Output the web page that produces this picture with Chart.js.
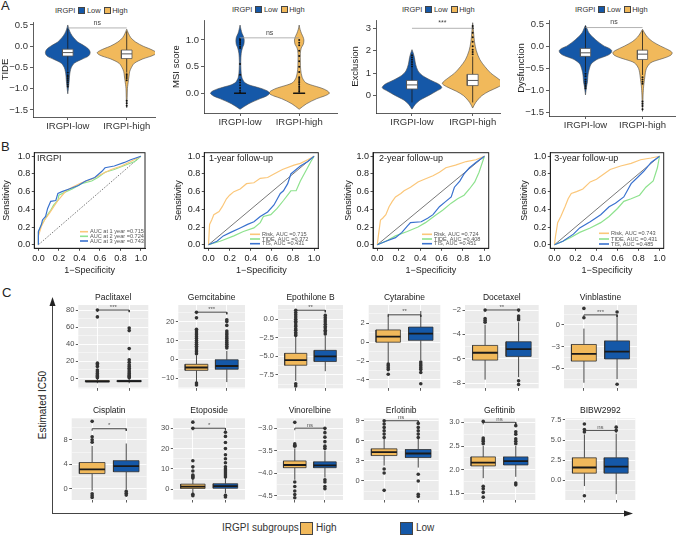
<!DOCTYPE html>
<html><head><meta charset="utf-8">
<script src="https://cdn.jsdelivr.net/npm/chart.js@4.4.1/dist/chart.umd.min.js"></script>
<style>
html,body{margin:0;padding:0;background:#fff;}
body{width:677px;height:535px;position:relative;overflow:hidden;font-family:'Liberation Sans',Arial,sans-serif;color:#222;}
canvas{position:absolute;}
.t{position:absolute;white-space:nowrap;line-height:1;}
.lg{position:absolute;font-size:7.5px;display:flex;align-items:center;white-space:nowrap;color:#333;line-height:1}
.lg i{display:inline-block;width:5px;height:5px;margin:0 1.5px 0 3px;border:0.6px solid #444}
</style></head><body>
<div class="t" style="left:1px;top:-1px;font-size:13px">A</div>
<div class="t" style="left:1px;top:140px;font-size:13px">B</div>
<div class="t" style="left:2px;top:286px;font-size:13px">C</div>

<div class="lg" style="left:55px;top:7px">IRGPI<i style="background:#1558a8"></i>Low<i style="background:#f1b95b"></i>High</div>
<div class="lg" style="left:232px;top:6px">IRGPI<i style="background:#1558a8"></i>Low<i style="background:#f1b95b"></i>High</div>
<div class="lg" style="left:402px;top:6px">IRGPI<i style="background:#1558a8"></i>Low<i style="background:#f1b95b"></i>High</div>
<div class="lg" style="left:575px;top:6px">IRGPI<i style="background:#1558a8"></i>Low<i style="background:#f1b95b"></i>High</div>

<svg style="position:absolute;left:0;top:0" width="677" height="535">
  <line x1="52.5" y1="513.5" x2="52.5" y2="304" stroke="#444" stroke-width="1"/>
  <polygon points="52.5,297 49.5,306 55.5,306" fill="#222"/>
  <line x1="52" y1="513.5" x2="626" y2="513.5" stroke="#444" stroke-width="1"/>
  <polygon points="633,513.5 624,510.5 624,516.5" fill="#222"/>
</svg>
<div class="t" style="left:43px;top:405px;font-size:10px;transform:translate(-50%,-50%) rotate(-90deg)">Estimated IC50</div>
<div class="t" style="left:222px;top:523px;font-size:10px;color:#333">IRGPI subgroups</div>
<div style="position:absolute;left:300px;top:522px;width:11px;height:11px;background:#f1b95b;border:1px solid #444"></div>
<div class="t" style="left:316px;top:523px;font-size:10px;color:#333">High</div>
<div style="position:absolute;left:400px;top:522px;width:11px;height:11px;background:#1558a8;border:1px solid #444"></div>
<div class="t" style="left:416px;top:523px;font-size:10px;color:#333">Low</div>

<script>
// ===================== DATA =====================
// ---- Panel A: violin plots (density half-widths read at y levels) ----
const violinGroups = ['IRGPI-low', 'IRGPI-high'];

const tideLowY  = [-1.12,-1.0,-0.9,-0.8,-0.7,-0.6,-0.5,-0.4,-0.3,-0.25,-0.2,-0.15,-0.1,-0.05,0.0,0.05,0.1,0.2,0.3,0.4,0.5];
const tideLowW  = [0,0.01,0.018,0.025,0.03,0.04,0.06,0.11,0.25,0.33,0.37,0.38,0.37,0.34,0.29,0.23,0.17,0.1,0.05,0.02,0];
const tideHighY = [-1.45,-1.3,-1.2,-1.0,-0.9,-0.8,-0.7,-0.6,-0.5,-0.4,-0.3,-0.25,-0.2,-0.15,-0.1,-0.05,0.0,0.1,0.2,0.3,0.4];
const tideHighW = [0,0.005,0.008,0.012,0.02,0.03,0.04,0.05,0.08,0.13,0.27,0.38,0.47,0.5,0.45,0.37,0.28,0.15,0.07,0.03,0];
const tideLowBox  = [-0.23,-0.15,-0.07];   // Q1, median, Q3
const tideHighBox = [-0.29,-0.18,-0.09];
const tideLowWhisk  = [-0.58, 0.42];
const tideHighWhisk = [-0.62, 0.35];
const tideLowDots  = [-0.62,-0.68,-0.72,-0.76,-0.8,-0.85,-0.9,-0.95];
const tideHighDots = [-0.66,-0.7,-0.75,-0.8,-1.28,-1.34,-1.4];

const msiLowY  = [-0.3,-0.2,-0.1,-0.05,0,0.05,0.1,0.15,0.2,0.3,0.45,0.6,0.75,0.85,0.92,1.0,1.06,1.12,1.2,1.28];
const msiLowW  = [0,0.14,0.34,0.45,0.5,0.45,0.33,0.17,0.08,0.03,0.015,0.012,0.02,0.04,0.065,0.07,0.06,0.035,0.015,0];
const msiHighY = [-0.3,-0.2,-0.1,-0.05,0,0.05,0.1,0.15,0.2,0.3,0.45,0.6,0.75,0.85,0.92,1.0,1.06,1.12,1.2,1.28];
const msiHighW = [0,0.12,0.3,0.43,0.51,0.47,0.37,0.22,0.11,0.05,0.025,0.02,0.02,0.035,0.07,0.08,0.065,0.04,0.015,0];
const msiLowBox  = [0,0,0];
const msiHighBox = [0,0,0];
const msiLowDots  = [0.02,0.05,0.1,0.15,0.2,0.25,0.35,0.55,0.85,0.88,0.92,0.95,0.98,1.0,1.02];
const msiHighDots = [0.03,0.06,0.1,0.13,0.17,0.2,0.23,0.27,0.3,0.4,0.5,0.6,0.7,0.8,0.9,0.95,1.0];

const exclLowY  = [-0.6,-0.4,-0.2,0,0.2,0.35,0.5,0.7,0.9,1.1,1.4,1.7,1.9,2.05];
const exclLowW  = [0,0.05,0.13,0.27,0.4,0.49,0.45,0.3,0.17,0.1,0.06,0.04,0.02,0];
const exclHighY = [-0.55,-0.3,0,0.2,0.4,0.55,0.8,1.0,1.3,1.6,2.0,2.4,2.8,3.25];
const exclHighW = [0,0.05,0.15,0.27,0.43,0.5,0.4,0.3,0.2,0.12,0.06,0.03,0.015,0];
const exclLowBox  = [0.3,0.48,0.68];
const exclHighBox = [0.45,0.68,0.95];
const exclLowWhisk  = [-0.3, 1.25];
const exclHighWhisk = [-0.3, 1.75];
const exclLowDots  = [1.3,1.4,1.5,1.6,1.7,1.8];
const exclHighDots = [1.85,1.95,2.05,2.2,2.4,2.6,2.8,3.0,3.1];

const dysLowY  = [-1.1,-1.0,-0.9,-0.8,-0.7,-0.6,-0.5,-0.4,-0.3,-0.25,-0.2,-0.15,-0.1,-0.05,0.0,0.1,0.2,0.3,0.4,0.47];
const dysLowW  = [0,0.01,0.02,0.035,0.04,0.05,0.07,0.1,0.2,0.3,0.4,0.45,0.46,0.42,0.33,0.22,0.13,0.06,0.025,0];
const dysHighY = [-1.47,-1.3,-1.1,-1.0,-0.9,-0.8,-0.7,-0.6,-0.5,-0.4,-0.35,-0.3,-0.25,-0.2,-0.15,-0.1,0.0,0.1,0.2,0.3,0.38];
const dysHighW = [0,0.006,0.01,0.015,0.02,0.03,0.04,0.05,0.07,0.12,0.18,0.3,0.42,0.5,0.52,0.48,0.32,0.18,0.09,0.035,0];
const dysLowBox  = [-0.23,-0.15,-0.05];
const dysHighBox = [-0.3,-0.18,-0.09];
const dysLowWhisk  = [-0.58, 0.45];
const dysHighWhisk = [-0.65, 0.35];
const dysLowDots  = [-0.62,-0.68,-0.75,-0.8,-0.85,-0.9,-0.95];
const dysHighDots = [-0.7,-0.75,-0.8,-0.85,-1.25,-1.3,-1.35,-1.42];

const tideTicks = [-1.5,-1.0,-0.5,0.0,0.5];
const msiTicks  = [0.0,0.5,1.0];
const exclTicks = [0,1,2,3];
const dysTicks  = [-1.5,-1.0,-0.5,0.0,0.5];
const violinSig = ['ns','ns','***','ns'];
const violinSigY = [0.43, 1.04, 3.0, 0.42];

// ---- Panel B: ROC curves [1-specificity, sensitivity] ----
const rocTicks = [0.0,0.2,0.4,0.6,0.8,1.0];
const diagonal = [[0,0],[1,1]];
const irgpiYear1 = [[0,0],[0,0.1],[0.03,0.21],[0.06,0.28],[0.11,0.36],[0.15,0.43],[0.19,0.5],[0.22,0.54],[0.27,0.61],[0.33,0.65],[0.42,0.7],[0.52,0.74],[0.62,0.8],[0.71,0.85],[0.81,0.89],[0.9,0.94],[1,1]];
const irgpiYear2 = [[0,0],[0,0.14],[0.03,0.23],[0.06,0.28],[0.09,0.34],[0.12,0.39],[0.15,0.45],[0.19,0.5],[0.2,0.56],[0.27,0.6],[0.33,0.63],[0.42,0.69],[0.52,0.72],[0.58,0.76],[0.65,0.82],[0.74,0.85],[0.87,0.91],[0.94,0.94],[1,1]];
const irgpiYear3 = [[0,0],[0,0.15],[0.03,0.23],[0.04,0.28],[0.07,0.32],[0.09,0.41],[0.12,0.49],[0.17,0.5],[0.19,0.58],[0.23,0.6],[0.3,0.63],[0.39,0.67],[0.46,0.72],[0.55,0.76],[0.62,0.83],[0.65,0.87],[0.74,0.89],[0.84,0.93],[0.9,0.96],[1,1]];

const risk1 = [[0,0],[0.01,0.23],[0.03,0.28],[0.05,0.34],[0.1,0.375],[0.13,0.43],[0.17,0.52],[0.2,0.56],[0.24,0.6],[0.3,0.63],[0.36,0.69],[0.43,0.7],[0.49,0.75],[0.56,0.76],[0.62,0.8],[0.7,0.85],[0.81,0.9],[0.87,0.92],[0.94,0.96],[1,1]];
const tide1 = [[0,0],[0.11,0.04],[0.24,0.1],[0.33,0.15],[0.43,0.19],[0.49,0.25],[0.52,0.32],[0.59,0.34],[0.65,0.41],[0.71,0.5],[0.78,0.61],[0.83,0.61],[0.87,0.72],[0.92,0.83],[0.97,0.94],[1,1]];
const tis1  = [[0,0],[0.08,0.04],[0.14,0.1],[0.21,0.14],[0.3,0.19],[0.37,0.23],[0.43,0.26],[0.49,0.32],[0.56,0.37],[0.62,0.45],[0.68,0.58],[0.71,0.61],[0.75,0.69],[0.78,0.8],[0.81,0.83],[0.87,0.89],[0.94,0.94],[1,1]];

const risk2 = [[0,0],[0.01,0.1],[0.02,0.19],[0.03,0.28],[0.05,0.3],[0.08,0.34],[0.11,0.43],[0.14,0.49],[0.17,0.54],[0.22,0.58],[0.25,0.61],[0.31,0.65],[0.38,0.71],[0.44,0.74],[0.52,0.78],[0.58,0.82],[0.64,0.87],[0.73,0.9],[0.83,0.94],[0.92,0.96],[1,1]];
const tide2 = [[0,0],[0.08,0.04],[0.17,0.1],[0.28,0.15],[0.38,0.2],[0.45,0.25],[0.55,0.34],[0.61,0.39],[0.69,0.47],[0.75,0.52],[0.81,0.56],[0.86,0.63],[0.91,0.71],[0.95,0.82],[1,1]];
const tis2  = [[0,0],[0.08,0.04],[0.17,0.08],[0.23,0.14],[0.28,0.21],[0.31,0.25],[0.41,0.26],[0.47,0.3],[0.52,0.34],[0.58,0.43],[0.64,0.49],[0.69,0.54],[0.72,0.65],[0.77,0.72],[0.81,0.8],[0.86,0.87],[0.92,0.93],[1,1]];

const risk3 = [[0,0],[0.01,0.1],[0.02,0.17],[0.03,0.25],[0.06,0.32],[0.1,0.43],[0.13,0.52],[0.16,0.58],[0.21,0.6],[0.27,0.63],[0.34,0.71],[0.4,0.74],[0.47,0.8],[0.53,0.85],[0.63,0.89],[0.73,0.92],[0.82,0.96],[0.92,0.98],[1,1]];
const tide3 = [[0,0],[0.08,0.04],[0.15,0.08],[0.24,0.14],[0.34,0.19],[0.44,0.25],[0.52,0.32],[0.6,0.41],[0.66,0.49],[0.73,0.52],[0.81,0.56],[0.87,0.65],[0.94,0.72],[0.98,0.87],[1,1]];
const tis3  = [[0,0],[0.08,0.04],[0.18,0.12],[0.24,0.19],[0.34,0.26],[0.44,0.34],[0.52,0.43],[0.58,0.47],[0.66,0.54],[0.73,0.69],[0.79,0.76],[0.85,0.83],[0.92,0.93],[1,1]];

const rocTitles = ['IRGPI','1-year follow-up','2-year follow-up','3-year follow-up'];
const rocLegend1 = ['AUC at 1 year =0.715','AUC at 2 year =0.724','AUC at 3 year =0.743'];
const rocLegend2 = ['Risk, AUC =0.715','TIDE, AUC =0.372','TIS, AUC =0.431'];
const rocLegend3 = ['Risk, AUC =0.724','TIDE, AUC =0.408','TIS, AUC =0.451'];
const rocLegend4 = ['Risk, AUC =0.743','TIDE, AUC =0.431','TIS, AUC =0.485'];

// ---- Panel C: box plots [lower whisker, Q1, median, Q3, upper whisker] ----
const drugs = ['Paclitaxel','Gemcitabine','Epothilone B','Cytarabine','Docetaxel','Vinblastine',
               'Cisplatin','Etoposide','Vinorelbine','Erlotinib','Gefitinib','BIBW2992'];
const boxGroups = ['High','Low'];
const highStats = [
  [-5.5,-4,-3.2,-2.4,-0.5], [-12,-5.8,-4.3,-2.6,2.2], [-8.3,-6.2,-5.5,-4.6,-2.4], [-2.2,0,0.6,1.3,3.0],
  [-7.7,-6.1,-5.5,-4.9,-3.2], [-8,-5,-4,-2.7,-0.5], [-0.3,2.5,3.2,4.3,7], [-2,0.4,1.3,2.5,5],
  [-4.15,-3.88,-3.82,-3.73,-3.45], [2.3,3.8,4.3,4.8,6.3], [1.82,2.08,2.15,2.27,2.5], [-0.7,0.9,1.6,2.8,5.7]];
const lowStats = [
  [-5.5,-3.8,-3,-2.2,0], [-12,-5.2,-3.5,-0.2,4.5], [-7,-5.7,-5.0,-4.2,-2.2], [-1.9,0.2,0.9,1.6,3.3],
  [-7.5,-5.8,-5.2,-4.6,-3.0], [-7.5,-4.7,-3.7,-2.2,1.5], [-0.1,2.8,3.7,4.6,7.4], [-2,0.5,1.5,2.7,5.5],
  [-4.1,-3.88,-3.83,-3.75,-3.5], [2.0,3.5,4.1,4.7,6.3], [1.85,2.1,2.18,2.27,2.5], [-1.7,0.9,1.7,2.8,5.8]];
const highOutliers = [
  [80,72,18,16,14,10,8,6,4,3,2,1],
  [3,4,5,6,7,8,9,10,11,12,13,14,15,16,22,25,-12.5,-13.5],
  [-2.2,-2,-1.8,-1.5,-1.3,-1,-0.8,-0.5,-0.3,0,0.3,0.6,0.9,1.2,-8.7,-9],
  [-2.3,-2.5,-2.7,-2.9,-3.4],
  [-2.7,-2.85,-3.0,-2.0],
  [1,2.3],
  [7.6,8,8.5,11,-0.8,-1.1,-1.4],
  [5.5,6,6.5,7,9,11,14,30,33,-2.5,-3.2],
  [-3.35,-3.4,-3.38,-2.87,-4.2,-4.3,-4.4,-4.48,-4.55],
  [6.5,7,7.5,8,8.5,9,1.8,1.2,-1.4],
  [2.55,2.6,2.63,2.67,3.02,1.65,1.6,1.52,1.42],
  [6,6.3,7,-1.9]];
const lowOutliers = [
  [59,56,35,22,19,16,14,12,10,8,6,4,3,2,1],
  [6,7,8,9,10,11,12,13,14,15,18,20,21],
  [-2,-1.7,-1.5,-1.2,-1,-0.7,-0.4,-0.1,0.2,0.5],
  [-2.1,-2.3,-2.5,-2.7,-2.9,-3.2,-4.4],
  [-2.5,-2.65,-2.8,-7.8,-8.1,-2.0],
  [-8.2,1.8],
  [-0.4,-0.7,-1.0],
  [6,7,8,9,10,11,13,15,17,20,23,26,28,-3,-3.8],
  [-3.0,-3.1,-3.2,-3.3,-3.4,-3.45,-4.15,-4.2,-4.3,-4.35],
  [6.5,7,7.5,8,8.6,1,0,-2,-2.3],
  [2.55,2.6,2.65,2.75,2.8,2.93,1.72,1.68],
  [6.2,6.6]];
const drugTicks = [[0,20,40,60,80],[-10,0,10,20],[-7.5,-5,-2.5,0],[-4,-2,0,2],[-8,-6,-4,-2],[-6,-3,0],
                   [0,4,8],[0,10,20,30],[-4.5,-4,-3.5,-3],[0,3,6,9],[1.5,2,2.5,3],[0,2.5,5,7.5]];
const drugSig  = ['***','***','**','**','**','***','*','*','ns','ns','ns','ns'];
const drugSigY = [80,25,1.2,2.9,-2,1.4,9.8,30,-3,9,3,6.2];

// ===================== DRAWING =====================
const FONT = "'Liberation Sans', Arial, Helvetica, sans-serif";
const BLUE = '#1558a8', ORANGE = '#f1b95b';
const ROC_OR = '#fbc77a', ROC_GR = '#8ee28e', ROC_BL = '#3a72cf';

function fmtTick(v, d){ const s = Math.abs(v).toFixed(d); return (v < -1e-9 ? '\u2212' : '') + s; }
const pts = arr => arr.map(p => ({x: p[0], y: p[1]}));
function violinPolygon(c, ys, ws){
  const right = ys.map((y,i) => ({x: c + ws[i], y}));
  const left = ys.map((y,i) => ({x: c - ws[i], y})).reverse();
  return right.concat(left);
}
function rectPoly(x0,x1,y0,y1){ return [{x:x0,y:y0},{x:x1,y:y0},{x:x1,y:y1},{x:x0,y:y1},{x:x0,y:y0}]; }

const annotPlugin = {
  id: 'annot',
  beforeDraw(chart, args, o){
    if (o.bg){ const a = chart.chartArea, c = chart.ctx; c.save(); c.fillStyle = o.bg; c.fillRect(a.left, a.top, a.right-a.left, a.bottom-a.top); c.restore(); }
  },
  afterDraw(chart, args, o){
    const c = chart.ctx, a = chart.chartArea, sx = chart.scales.x, sy = chart.scales.y;
    c.save();
    if (o.frame){ c.strokeStyle = o.frame; c.lineWidth = 1; c.strokeRect(a.left, a.top, a.right-a.left, a.bottom-a.top); }
    (o.keys || []).forEach(k => {
      c.strokeStyle = k.color; c.lineWidth = 1.6; c.beginPath();
      c.moveTo(k.x1 - o.ox, k.y - o.oy); c.lineTo(k.x2 - o.ox, k.y - o.oy); c.stroke();
    });
    (o.texts || []).forEach(t => {
      let x, y;
      if (t.mode === 'data'){ x = sx.getPixelForValue(t.x); y = sy.getPixelForValue(t.y) + (t.dy || 0); }
      else if (t.mode === 'page'){ x = t.x - o.ox; y = t.y - o.oy; }
      else { x = (a.left + a.right)/2; y = a.top + t.dy; }
      c.font = t.size + 'px ' + FONT; c.fillStyle = t.color || '#222';
      c.textAlign = t.align || 'center'; c.textBaseline = t.base || 'middle';
      c.fillText(t.text, x, y);
    });
    c.restore();
  }
};

function mkChart(area, sz, scales, datasets, annot){
  const left = Math.floor(area.l - sz.yW), top = Math.floor(area.t - sz.padT);
  const right = Math.ceil(area.r + sz.padR), bottom = Math.ceil(area.b + sz.xH);
  const yW = area.l - left, padT = area.t - top, padR = right - area.r, xH = bottom - area.b;
  const cv = document.createElement('canvas');
  cv.width = right - left; cv.height = bottom - top;
  cv.style.left = left + 'px'; cv.style.top = top + 'px';
  cv.style.width = cv.width + 'px'; cv.style.height = cv.height + 'px';
  document.body.appendChild(cv);
  scales.x.afterFit = s => { s.height = xH; s.paddingLeft = 0; s.paddingRight = 0; s.paddingTop = 0; s.paddingBottom = 0; };
  scales.y.afterFit = s => { s.width = yW; s.paddingLeft = 0; s.paddingRight = 0; s.paddingTop = 0; s.paddingBottom = 0; };
  annot.ox = left; annot.oy = top;
  return new Chart(cv.getContext('2d'), {
    type: 'line',
    data: { datasets },
    options: {
      responsive: false, animation: false, devicePixelRatio: 1,
      layout: { padding: { left: 0, top: padT, right: padR, bottom: 0 }, autoPadding: false },
      scales,
      elements: { point: { radius: 0 }, line: { tension: 0 } },
      plugins: { legend: { display: false }, tooltip: { enabled: false }, annot }
    },
    plugins: [annotPlugin]
  });
}

// ---------- Panel A ----------
function violinChart(o){
  const ds = [];
  o.v.forEach((v, c) => {
    const col = c === 0 ? BLUE : ORANGE;
    ds.push({ data: violinPolygon(c, v.ys, v.ws), backgroundColor: col, borderColor: '#4a4a4a', borderWidth: 0.6, fill: 'shape', tension: 0.3, order: 6 });
    if (v.wh) ds.push({ data: [{x:c, y:v.wh[0]}, {x:c, y:v.wh[1]}], borderColor: '#1a1a1a', borderWidth: 0.8, order: 5 });
    if (v.dots) ds.push({ data: v.dots.map(y => ({x:c, y})), showLine: false, pointRadius: 1, pointBackgroundColor: '#111', pointBorderWidth: 0, order: 4 });
    const hw = o.boxHalf;
    ds.push({ data: rectPoly(c-hw, c+hw, v.box[0], v.box[2]), backgroundColor: '#fff', borderColor: o.boxLine, borderWidth: 0.8, fill: 'shape', order: 3 });
    ds.push({ data: [{x:c-hw, y:v.box[1]}, {x:c+hw, y:v.box[1]}], borderColor: o.boxLine, borderWidth: 1, order: 2 });
  });
  ds.push({ data: [{x:0, y:o.sigY}, {x:1, y:o.sigY}], borderColor: '#a0a0a0', borderWidth: 0.8, order: 1 });
  const scales = {
    x: { type: 'linear', min: o.xr[0], max: o.xr[1],
         afterBuildTicks: s => { s.ticks = [0, 1].map(v => ({value: v})); },
         ticks: { callback: v => violinGroups[v], font: {size: 9.5, family: FONT}, color: '#333', padding: 1, autoSkip: false, maxRotation: 0 },
         grid: { drawOnChartArea: false, drawTicks: true, tickLength: 3, tickColor: '#333', tickWidth: 0.8 },
         border: { display: true, color: '#333', width: 0.8 } },
    y: { type: 'linear', min: o.yr[0], max: o.yr[1],
         afterBuildTicks: s => { s.ticks = o.ticks.map(v => ({value: v})); },
         ticks: { callback: v => fmtTick(v, o.dec), font: {size: 9.5, family: FONT}, color: '#333', padding: 2, autoSkip: false },
         grid: { drawOnChartArea: false, drawTicks: true, tickLength: 3, tickColor: '#333', tickWidth: 0.8 },
         border: { display: true, color: '#333', width: 0.8 },
         title: { display: true, text: o.title, font: {size: 9.5, family: FONT}, color: '#222', padding: {top: 0, bottom: 0} } }
  };
  mkChart(o.area, o.sz, scales, ds, { texts: [{ mode: 'data', x: 0.5, y: o.sigY, dy: -5, text: o.sig, size: 7, color: '#444' }] });
}

violinChart({ area: {l:33, t:22, r:155, b:117}, sz: {yW:33, padT:4, xH:17, padR:4},
  xr: [-0.59, 1.48], yr: [-1.665, 0.57], ticks: tideTicks, dec: 1, title: 'TIDE', boxHalf: 0.09, boxLine: '#555',
  sig: violinSig[0], sigY: violinSigY[0],
  v: [ {ys: tideLowY, ws: tideLowW, box: tideLowBox, wh: tideLowWhisk, dots: tideLowDots},
       {ys: tideHighY, ws: tideHighW, box: tideHighBox, wh: tideHighWhisk, dots: tideHighDots} ] });

violinChart({ area: {l:204, t:20, r:337, b:113}, sz: {yW:33, padT:4, xH:20, padR:3},
  xr: [-0.61, 1.64], yr: [-0.37, 1.375], ticks: msiTicks, dec: 1, title: 'MSI score', boxHalf: 0.1, boxLine: '#111',
  sig: violinSig[1], sigY: violinSigY[1],
  v: [ {ys: msiLowY, ws: msiLowW, box: msiLowBox, dots: msiLowDots},
       {ys: msiHighY, ws: msiHighW, box: msiHighBox, dots: msiHighDots} ] });

violinChart({ area: {l:376, t:20, r:500, b:113}, sz: {yW:26, padT:4, xH:20, padR:3},
  xr: [-0.593, 1.45], yr: [-0.77, 3.37], ticks: exclTicks, dec: 0, title: 'Exclusion', boxHalf: 0.09, boxLine: '#555',
  sig: violinSig[2], sigY: violinSigY[2],
  v: [ {ys: exclLowY, ws: exclLowW, box: exclLowBox, wh: exclLowWhisk, dots: exclLowDots},
       {ys: exclHighY, ws: exclHighW, box: exclHighBox, wh: exclHighWhisk, dots: exclHighDots} ] });

violinChart({ area: {l:549, t:20, r:675, b:116}, sz: {yW:33, padT:4, xH:17, padR:2},
  xr: [-0.64, 1.57], yr: [-1.575, 0.59], ticks: dysTicks, dec: 1, title: 'Dysfunction', boxHalf: 0.09, boxLine: '#555',
  sig: violinSig[3], sigY: violinSigY[3],
  v: [ {ys: dysLowY, ws: dysLowW, box: dysLowBox, wh: dysLowWhisk, dots: dysLowDots},
       {ys: dysHighY, ws: dysHighW, box: dysHighBox, wh: dysHighWhisk, dots: dysHighDots} ] });

// ---------- Panel B ----------
function rocChart(o){
  const ds = [
    { data: pts(diagonal), borderColor: '#555', borderWidth: 0.8, borderDash: o.dotted ? [1.5, 1.5] : [], order: 4 },
    { data: pts(o.curves[1]), borderColor: ROC_GR, borderWidth: 1.2, order: 3 },
    { data: pts(o.curves[0]), borderColor: ROC_OR, borderWidth: 1.2, order: 2 },
    { data: pts(o.curves[2]), borderColor: ROC_BL, borderWidth: 1.2, order: 1 }
  ];
  const ax = (isY) => ({
    type: 'linear', min: -0.04, max: 1.04,
    afterBuildTicks: s => { s.ticks = rocTicks.map(v => ({value: v})); },
    ticks: { callback: v => v.toFixed(1), font: {size: 9, family: FONT}, color: '#222', padding: isY ? 1.5 : 2.5, autoSkip: false, maxRotation: 0 },
    grid: { drawOnChartArea: false, drawTicks: true, tickLength: 2.5, tickColor: '#222', tickWidth: 0.8 },
    border: { display: true, color: '#222', width: 1 },
    title: { display: true, text: isY ? 'Sensitivity' : '1\u2212Specificity', font: {size: 9, family: FONT}, color: '#222', padding: isY ? {top: o.tpad, bottom: 0} : {top: 0, bottom: 0} }
  });
  const colors = [ROC_OR, ROC_GR, ROC_BL];
  const keys = [], texts = [{ mode: 'page', x: o.titleX, y: 158.5, text: o.title, size: 9, align: 'left', color: '#222' }];
  o.legend.forEach((txt, i) => {
    keys.push({ color: colors[i], x1: o.keyX1, x2: o.keyX2, y: o.rows[i] });
    texts.push({ mode: 'page', x: o.keyX2 + 2, y: o.rows[i], text: txt, size: 5.6, align: 'left', color: '#555' });
  });
  mkChart(o.area, o.sz, { x: ax(false), y: ax(true) }, ds, { frame: '#222', keys, texts });
}
const bRows = [234.3, 239, 243.7];
rocChart({ area: {l:34.3, t:152.7, r:145, b:248.3}, sz: {yW:34.3, padT:4, xH:27, padR:3}, tpad: 1.3, dotted: true,
  curves: [irgpiYear1, irgpiYear2, irgpiYear3], title: rocTitles[0], titleX: 37, legend: rocLegend1,
  keyX1: 80, keyX2: 88, rows: [231.7, 236.3, 241] });
rocChart({ area: {l:204.3, t:152.7, r:318.3, b:248.3}, sz: {yW:31.3, padT:4, xH:27, padR:3}, tpad: 0, dotted: false,
  curves: [risk1, tide1, tis1], title: rocTitles[1], titleX: 209, legend: rocLegend2,
  keyX1: 250, keyX2: 260, rows: bRows });
rocChart({ area: {l:373, t:152.7, r:488.7, b:248.3}, sz: {yW:30, padT:4, xH:27, padR:3}, tpad: 0, dotted: false,
  curves: [risk2, tide2, tis2], title: rocTitles[2], titleX: 379, legend: rocLegend3,
  keyX1: 422, keyX2: 432, rows: bRows });
rocChart({ area: {l:550.3, t:152.7, r:663.7, b:248.3}, sz: {yW:31.3, padT:4, xH:27, padR:3}, tpad: 0, dotted: false,
  curves: [risk3, tide3, tis3], title: rocTitles[3], titleX: 554.3, legend: rocLegend4,
  keyX1: 599, keyX2: 609, rows: [233.3, 239, 244] });

// ---------- Panel C ----------
const cAreas = [
  {l:78.3, r:148.3, t:305, b:388.3}, {l:178.3, r:245, t:305, b:388.3}, {l:278, r:343, t:305, b:388.3},
  {l:368.7, r:440.3, t:305, b:388.3}, {l:465, r:538.7, t:305, b:388.3}, {l:564, r:637, t:305, b:388.3},
  {l:71.7, r:146.7, t:418.3, b:500}, {l:173.3, r:245, t:418.3, b:500}, {l:276.7, r:343, t:418.3, b:500},
  {l:363.7, r:438.7, t:418.3, b:500}, {l:463.7, r:535.3, t:418.3, b:500}, {l:565.3, r:635.3, t:418.3, b:500}];
const cYR = [[-11.4,85.9],[-15.3,28.8],[-9.3,1.9],[-4.88,3.94],[-8.41,-1.59],[-8.77,2.77],
             [-1.8,11.5],[-5.3,34.9],[-4.6,-2.78],[-2.84,9.36],[1.36,3.085],[-2.43,7.7]];
const cDec = [0,0,1,0,0,0,0,0,1,0,1,1];

drugs.forEach((name, i) => {
  const majors = drugTicks[i];
  const step = majors[1] - majors[0];
  const [ymin, ymax] = cYR[i];
  const all = [];
  for (let k = -1; k < majors.length; k++){
    if (k >= 0) all.push(majors[k]);
    const m = (k >= 0 ? majors[k] : majors[0] - step) + step/2;
    if (m > ymin && m < ymax) all.push(m);
  }
  const isMajor = v => majors.includes(v);
  const ds = [];
  const groups = [{stats: highStats[i], out: highOutliers[i], col: ORANGE}, {stats: lowStats[i], out: lowOutliers[i], col: BLUE}];
  const hw = 0.375;
  groups.forEach((g, c) => {
    const s = g.stats;
    ds.push({ data: [{x:c, y:s[0]}, {x:c, y:s[1]}], borderColor: '#333', borderWidth: 0.9, order: 5 });
    ds.push({ data: [{x:c, y:s[3]}, {x:c, y:s[4]}], borderColor: '#333', borderWidth: 0.9, order: 5 });
    ds.push({ data: rectPoly(c-hw, c+hw, s[1], s[3]), backgroundColor: g.col, borderColor: '#333', borderWidth: 0.8, fill: 'shape', order: 4 });
    ds.push({ data: [{x:c-hw, y:s[2]}, {x:c+hw, y:s[2]}], borderColor: '#1a1a1a', borderWidth: 1.8, order: 3 });
    ds.push({ data: g.out.map(y => ({x:c, y})), showLine: false, pointRadius: 1.8, pointBackgroundColor: '#333', pointBorderWidth: 0, order: 2 });
  });
  const sy = drugSigY[i], drop = (ymax - ymin) * 0.025;
  ds.push({ data: [{x:0, y:sy-drop}, {x:0, y:sy}, {x:1, y:sy}, {x:1, y:sy-drop}], borderColor: '#333', borderWidth: 0.9, order: 1 });
  const scales = {
    x: { type: 'linear', min: -0.6, max: 1.6,
         afterBuildTicks: s => { s.ticks = [0, 1].map(v => ({value: v})); },
         ticks: { callback: () => '', font: {size: 7, family: FONT}, padding: 0, autoSkip: false },
         grid: { color: '#ffffff', lineWidth: 0.9, drawTicks: true, tickLength: 2.5, tickColor: '#333', tickWidth: 0.8 },
         border: { display: false } },
    y: { type: 'linear', min: ymin, max: ymax,
         afterBuildTicks: s => { s.ticks = all.map(v => ({value: v})); },
         ticks: { callback: v => isMajor(v) ? fmtTick(v, cDec[i]) : '', font: {size: 7.5, family: FONT}, color: '#4d4d4d', padding: 1.5, autoSkip: false },
         grid: { color: '#ffffff', lineWidth: ctx => (ctx.tick && isMajor(ctx.tick.value)) ? 0.9 : 0.45,
                 drawTicks: true, tickLength: 2.5, tickWidth: 0.8,
                 tickColor: ctx => (ctx.tick && isMajor(ctx.tick.value)) ? '#333' : 'rgba(0,0,0,0)' },
         border: { display: false } }
  };
  mkChart(cAreas[i], {yW: 30, padT: 16, xH: 6, padR: 2}, scales, ds, {
    bg: '#ebebeb',
    texts: [ { mode: 'top', dy: -7.7, text: name, size: 8.5, color: '#1a1a1a' },
             { mode: 'data', x: 0.5, y: sy, dy: -3, text: drugSig[i], size: 6, color: '#555' } ]
  });
});
</script>
</body></html>
